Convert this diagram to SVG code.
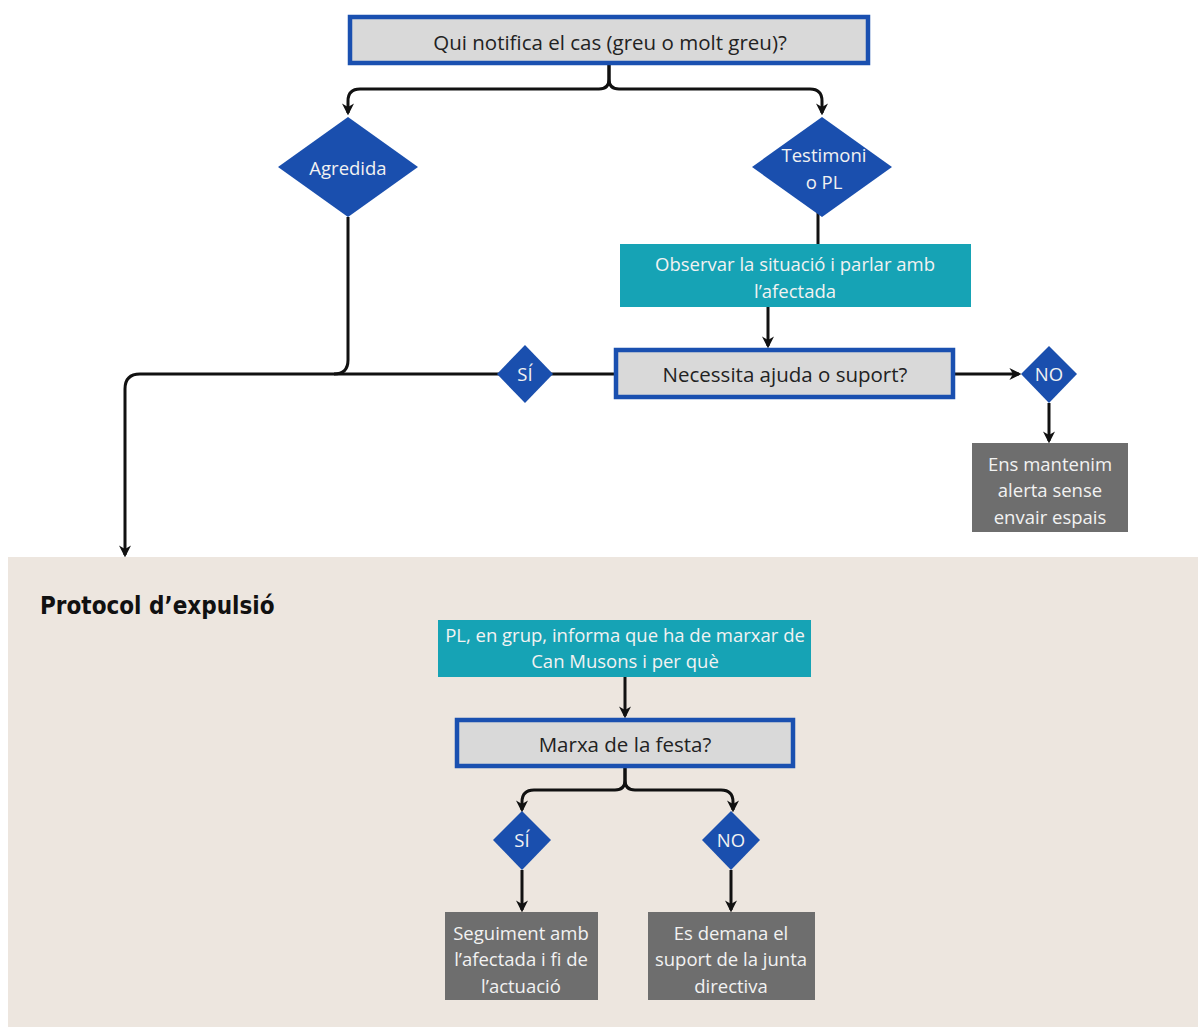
<svg xmlns="http://www.w3.org/2000/svg" width="1198" height="1028" viewBox="0 0 1198 1028">
<defs>
<style>
.q{fill:#d9d9d9;stroke:#1a50b0;stroke-width:4.5}
.d{fill:#1a4fae}
.t{fill:#16a3b5}
.g{fill:#6e6e6e}
.tx{font-family:"Open Sans","Liberation Sans",sans-serif;font-size:18.5px;text-anchor:middle}
.qt{font-size:20.5px}
.dk{fill:#222}
.wt{fill:#f2f2f2}
.c{fill:none;stroke:#111;stroke-width:3}
</style>
<marker id="ah" viewBox="0 0 10 10" refX="8" refY="5" markerWidth="4" markerHeight="4" orient="auto-start-reverse" markerUnits="strokeWidth">
<path d="M0,0 L10,5 L0,10 L3,5 Z" fill="#111"/>
</marker>
</defs>
<rect x="0" y="0" width="1198" height="1028" fill="#ffffff"/>
<rect x="8" y="557" width="1190" height="470" fill="#ede6df"/>
<text x="40" y="614" font-family="'DejaVu Sans Condensed','Liberation Sans',sans-serif" font-weight="bold" font-size="24" fill="#111">Protocol d’expulsió</text>

<g id="connectors">
<path class="c" d="M609,64 V79 Q609,89 599,89 H360 Q348,89 348,101 V113" marker-end="url(#ah)"/>
<path class="c" d="M609,64 V79 Q609,89 619,89 H810 Q822,89 822,101 V113" marker-end="url(#ah)"/>
<path class="c" d="M818,208 V244"/>
<path class="c" d="M768,307 V346" marker-end="url(#ah)"/>
<path class="c" d="M614,374 H140 Q125,374 125,389 V555" marker-end="url(#ah)"/>
<path class="c" d="M348,217 V360 Q348,374 334,374"/>
<path class="c" d="M955,374 H1019" marker-end="url(#ah)"/>
<path class="c" d="M1049,403 V441" marker-end="url(#ah)"/>
<path class="c" d="M625,677 V716" marker-end="url(#ah)"/>
<path class="c" d="M625,768 V780 Q625,790 615,790 H534 Q522,790 522,802 V810" marker-end="url(#ah)"/>
<path class="c" d="M625,768 V780 Q625,790 635,790 H721 Q733,790 733,802 V810" marker-end="url(#ah)"/>
<path class="c" d="M522,870 V910" marker-end="url(#ah)"/>
<path class="c" d="M731,870 V910" marker-end="url(#ah)"/>
</g>

<g id="n-qui">
<rect class="q" x="350" y="17" width="518" height="46"/>
<text class="tx qt dk" x="610" y="50">Qui notifica el cas (greu o molt greu)?</text>
</g>
<g id="n-agredida">
<polygon class="d" points="348,117 418,167 348,217 278,167"/>
<text class="tx wt" x="348" y="175">Agredida</text>
</g>
<g id="n-testimoni">
<polygon class="d" points="822,117 892,167 822,217 752,167"/>
<text class="tx wt" x="824" y="162">Testimoni</text>
<text class="tx wt" x="824" y="189">o PL</text>
</g>
<g id="n-observar">
<rect class="t" x="620" y="244" width="351" height="63"/>
<text class="tx wt" x="795" y="271">Observar la situació i parlar amb</text>
<text class="tx wt" x="795" y="298">l’afectada</text>
</g>
<g id="n-necessita">
<rect class="q" x="616" y="350" width="337" height="47"/>
<text class="tx qt dk" x="785" y="382">Necessita ajuda o suport?</text>
</g>
<g id="n-si1">
<polygon class="d" points="525,345 553,374 525,403 497,374"/>
<text class="tx wt" x="525" y="381">SÍ</text>
</g>
<g id="n-no1">
<polygon class="d" points="1049,346 1077,374 1049,403 1021,374"/>
<text class="tx wt" x="1049" y="381">NO</text>
</g>
<g id="n-ens">
<rect class="g" x="972" y="443" width="156" height="89"/>
<text class="tx wt" x="1050" y="471">Ens mantenim</text>
<text class="tx wt" x="1050" y="497">alerta sense</text>
<text class="tx wt" x="1050" y="524">envair espais</text>
</g>
<g id="n-pl">
<rect class="t" x="438" y="620" width="373" height="57"/>
<text class="tx wt" x="625" y="642" font-size="18.7">PL, en grup, informa que ha de marxar de</text>
<text class="tx wt" x="625" y="668" font-size="18.7">Can Musons i per què</text>
</g>
<g id="n-marxa">
<rect class="q" x="457" y="720" width="336" height="46"/>
<text class="tx qt dk" x="625" y="752">Marxa de la festa?</text>
</g>
<g id="n-si2">
<polygon class="d" points="522,811 551,840 522,870 493,840"/>
<text class="tx wt" x="522" y="847">SÍ</text>
</g>
<g id="n-no2">
<polygon class="d" points="731,811 760,840 731,870 702,840"/>
<text class="tx wt" x="731" y="847">NO</text>
</g>
<g id="n-seguiment">
<rect class="g" x="445" y="912" width="153" height="88"/>
<text class="tx wt" x="521" y="940">Seguiment amb</text>
<text class="tx wt" x="521" y="966">l’afectada i fi de</text>
<text class="tx wt" x="521" y="993">l’actuació</text>
</g>
<g id="n-demana">
<rect class="g" x="648" y="912" width="167" height="88"/>
<text class="tx wt" x="731" y="940">Es demana el</text>
<text class="tx wt" x="731" y="966">suport de la junta</text>
<text class="tx wt" x="731" y="993">directiva</text>
</g>
</svg>
